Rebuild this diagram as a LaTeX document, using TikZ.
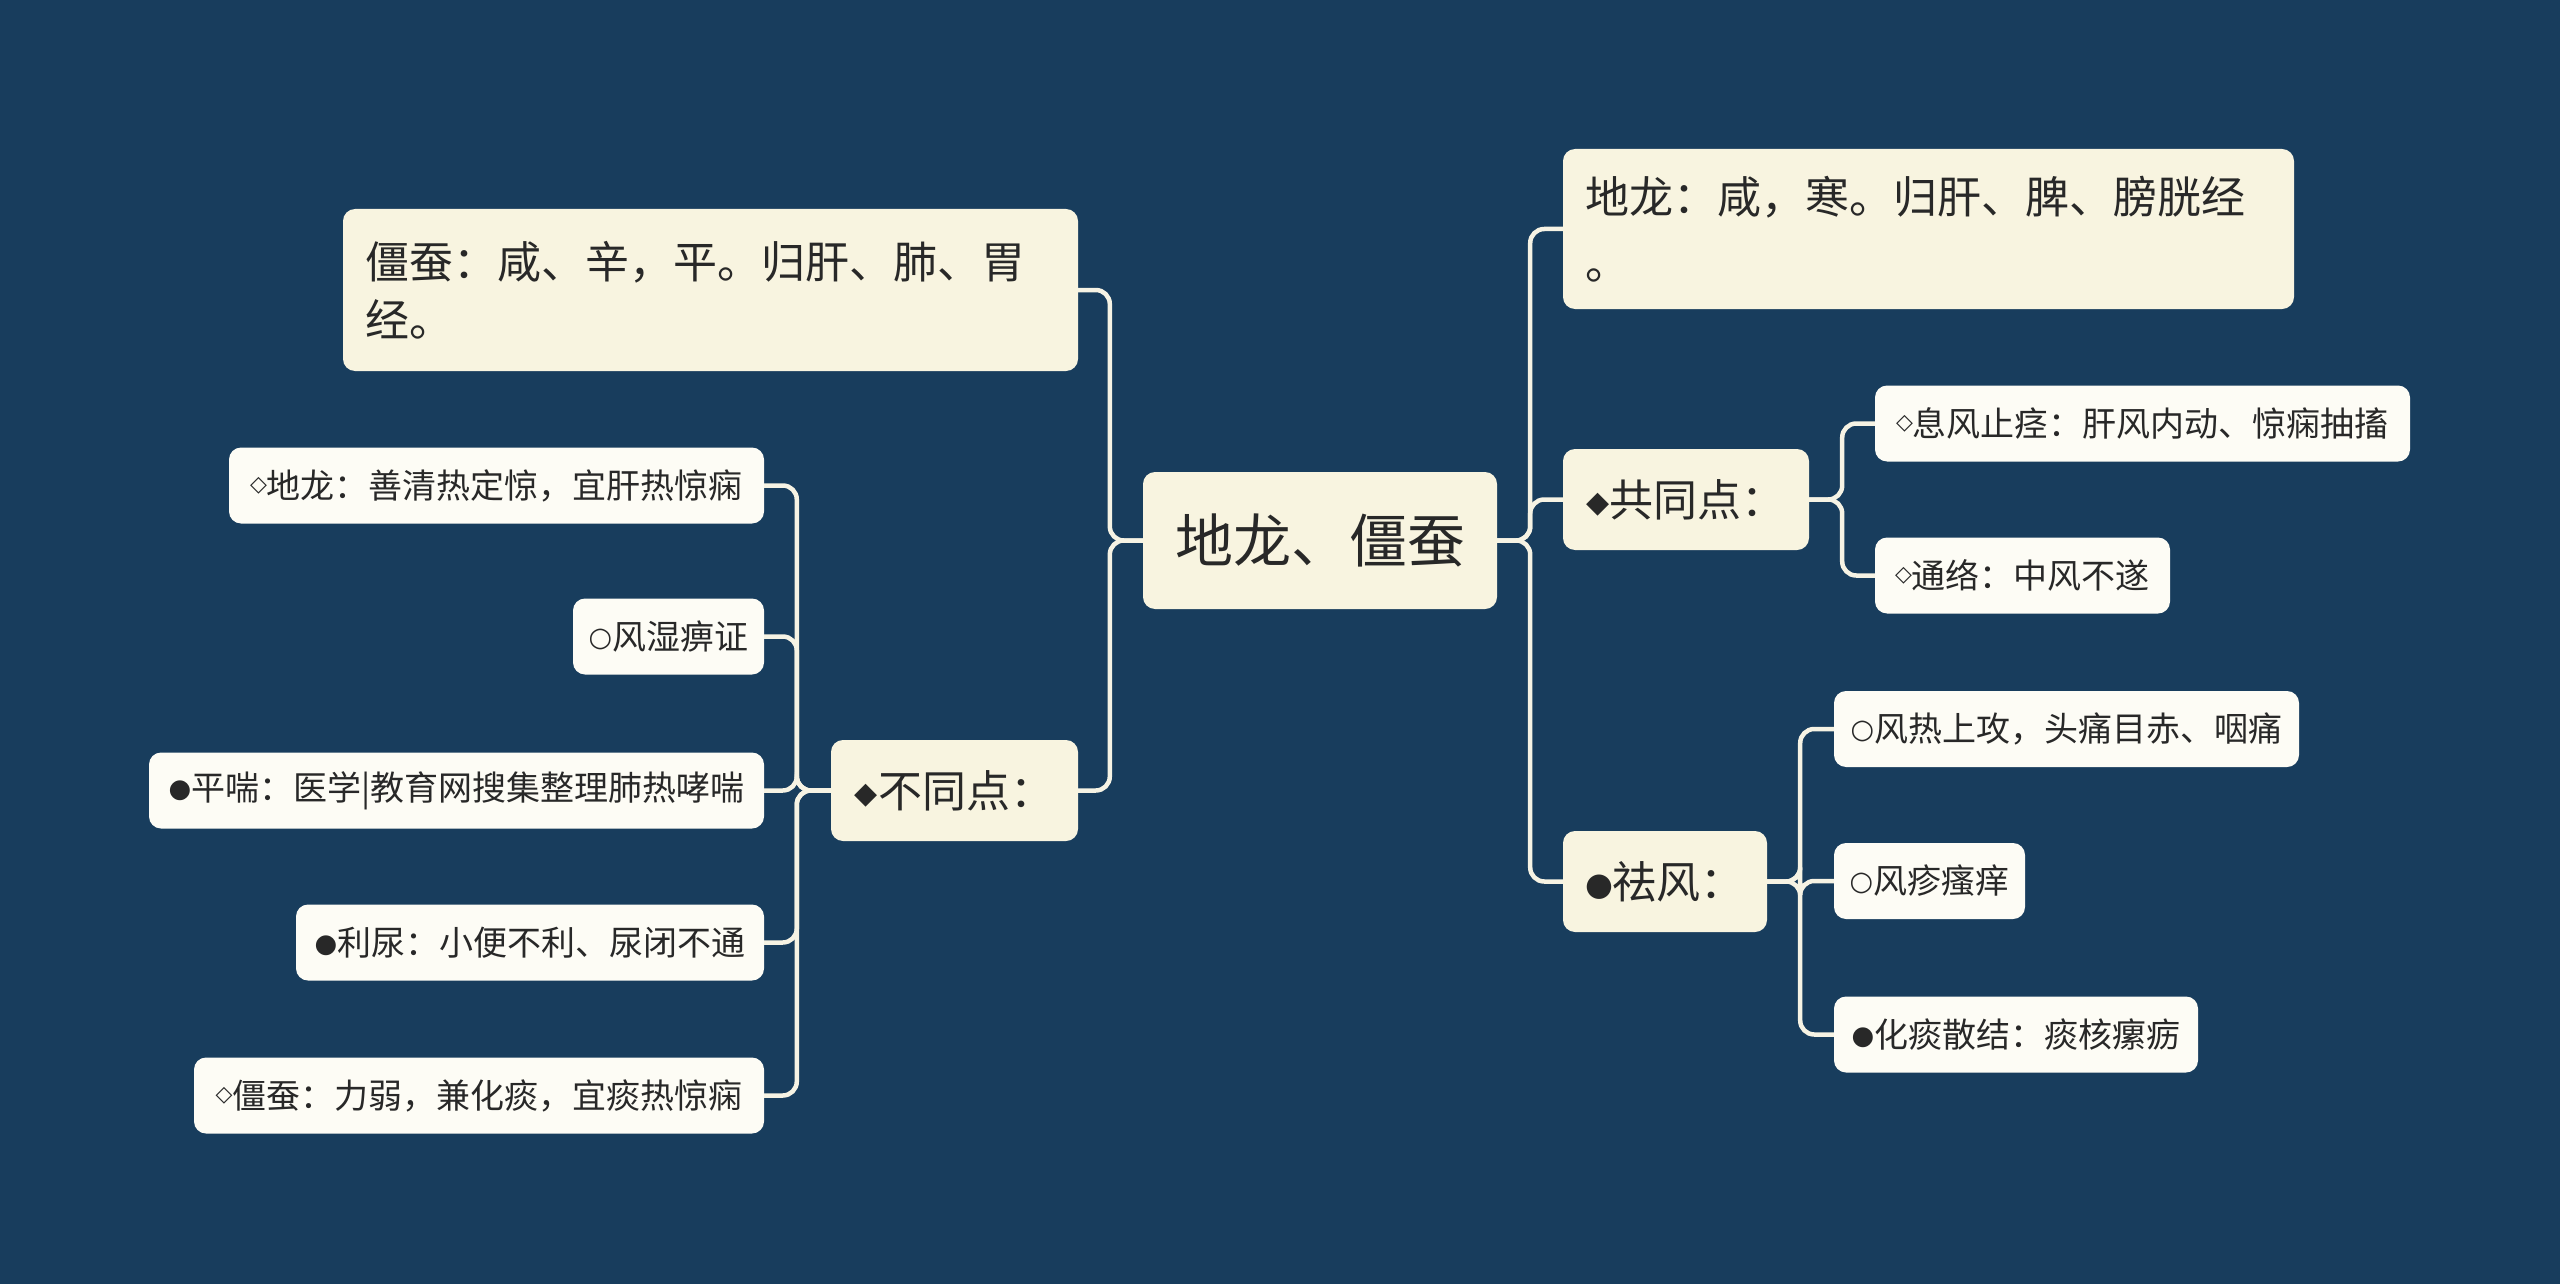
\documentclass[tikz,border=0pt]{standalone}
\usepackage{fontspec}
\newfontfamily\cjk{Noto Sans CJK SC}
\newfontfamily\symfont{DejaVu Sans}
\usetikzlibrary{positioning}

\definecolor{bgnavy}{RGB}{24,61,93}
\definecolor{topiccream}{RGB}{248,244,224}
\definecolor{leafwhite}{RGB}{253,252,245}
\definecolor{linecream}{RGB}{246,243,228}
\definecolor{inkgray}{RGB}{40,40,40}

% small list marks in front of the texts: size, lift, mark
\newcommand{\shapech}[3]{\raisebox{#2}{\symfont\fontsize{#1}{#1}\selectfont #3}}

\begin{document}
\begin{tikzpicture}[x=1pt, y=-1pt,
    topic/.style={fill=topiccream, rounded corners=12pt, text=inkgray,
                  inner sep=0pt, font=\cjk\fontsize{44}{58}\selectfont},
    leaf/.style={fill=leafwhite, rounded corners=12pt, text=inkgray,
                 inner sep=0pt, minimum height=76pt,
                 font=\cjk\fontsize{34}{40}\selectfont},
    link/.style={draw=linecream, line width=4.5pt, rounded corners=14pt}]

  \fill[bgnavy] (0,0) rectangle (2560,1284);

  % centre
  \node[topic, font=\cjk\fontsize{58}{64}\selectfont,
        minimum width=354pt, minimum height=137pt] (root) at (1320,540.5) {地龙、僵蚕};

  % left half
  \node[topic, minimum width=735pt, minimum height=162pt, align=left,
        text width=691pt] (jiangcan) at (710.5,290) {僵蚕：咸、辛，平。归肝、肺、胃\\经。};
  \node[topic, minimum width=247pt, minimum height=101pt] (butong) at (954.5,790.5)
    {\shapech{30}{4pt}{◆}不同点：};
  \node[leaf, minimum width=535pt] (dlleaf) at (496.5,485.5)
    {\shapech{22}{7pt}{◇}地龙：善清热定惊，宜肝热惊痫};
  \node[leaf, minimum width=191pt] (fengshi) at (668.5,636.5)
    {\shapech{27}{3pt}{○}风湿痹证};
  \node[leaf, minimum width=615pt] (pingchuan) at (456.5,790.5)
    {\shapech{26}{3pt}{●}平喘：医学|教育网搜集整理肺热哮喘};
  \node[leaf, minimum width=468pt] (liniao) at (530,942.5)
    {\shapech{26}{3pt}{●}利尿：小便不利、尿闭不通};
  \node[leaf, minimum width=570pt] (jcleaf) at (479,1095.5)
    {\shapech{22}{7pt}{◇}僵蚕：力弱，兼化痰，宜痰热惊痫};

  % right half
  \node[topic, minimum width=731pt, minimum height=160pt, align=left,
        text width=687pt, font=\cjk\fontsize{44}{66}\selectfont] (dilong) at (1928.5,229)
    {地龙：咸，寒。归肝、脾、膀胱经\\。};
  \node[topic, minimum width=246pt, minimum height=101pt] (gongtong) at (1686,499.5)
    {\shapech{30}{4pt}{◆}共同点：};
  \node[topic, minimum width=204pt, minimum height=101pt] (qufeng) at (1665,881.5)
    {\shapech{32}{3pt}{●}祛风：};
  \node[leaf, minimum width=535pt] (xifeng) at (2142.5,423.5)
    {\shapech{22}{7pt}{◇}息风止痉：肝风内动、惊痫抽搐};
  \node[leaf, minimum width=295pt] (tongluo) at (2022.5,575.5)
    {\shapech{22}{7pt}{◇}通络：中风不遂};
  \node[leaf, minimum width=465pt] (fengre) at (2066.5,729)
    {\shapech{27}{3pt}{○}风热上攻，头痛目赤、咽痛};
  \node[leaf, minimum width=191pt] (fengzhen) at (1929.5,881)
    {\shapech{27}{3pt}{○}风疹瘙痒};
  \node[leaf, minimum width=364pt] (huatan) at (2016,1034.5)
    {\shapech{26}{3pt}{●}化痰散结：痰核瘰疬};

  % connectors
  \draw[link] (root.east) -- ++(33,0) |- (dilong.west);
  \draw[link] (root.east) -- ++(33,0) |- (gongtong.west);
  \draw[link] (root.east) -- ++(33,0) |- (qufeng.west);
  \draw[link] (root.west) -- ++(-33,0) |- (jiangcan.east);
  \draw[link] (root.west) -- ++(-33,0) |- (butong.east);

  \foreach \leafname in {dlleaf, fengshi, pingchuan, liniao, jcleaf}
    \draw[link] (butong.west) -- ++(-34,0) |- (\leafname.east);
  \foreach \leafname in {xifeng, tongluo}
    \draw[link] (gongtong.east) -- ++(33,0) |- (\leafname.west);
  \foreach \leafname in {fengre, fengzhen, huatan}
    \draw[link] (qufeng.east) -- ++(33,0) |- (\leafname.west);
\end{tikzpicture}
\end{document}
